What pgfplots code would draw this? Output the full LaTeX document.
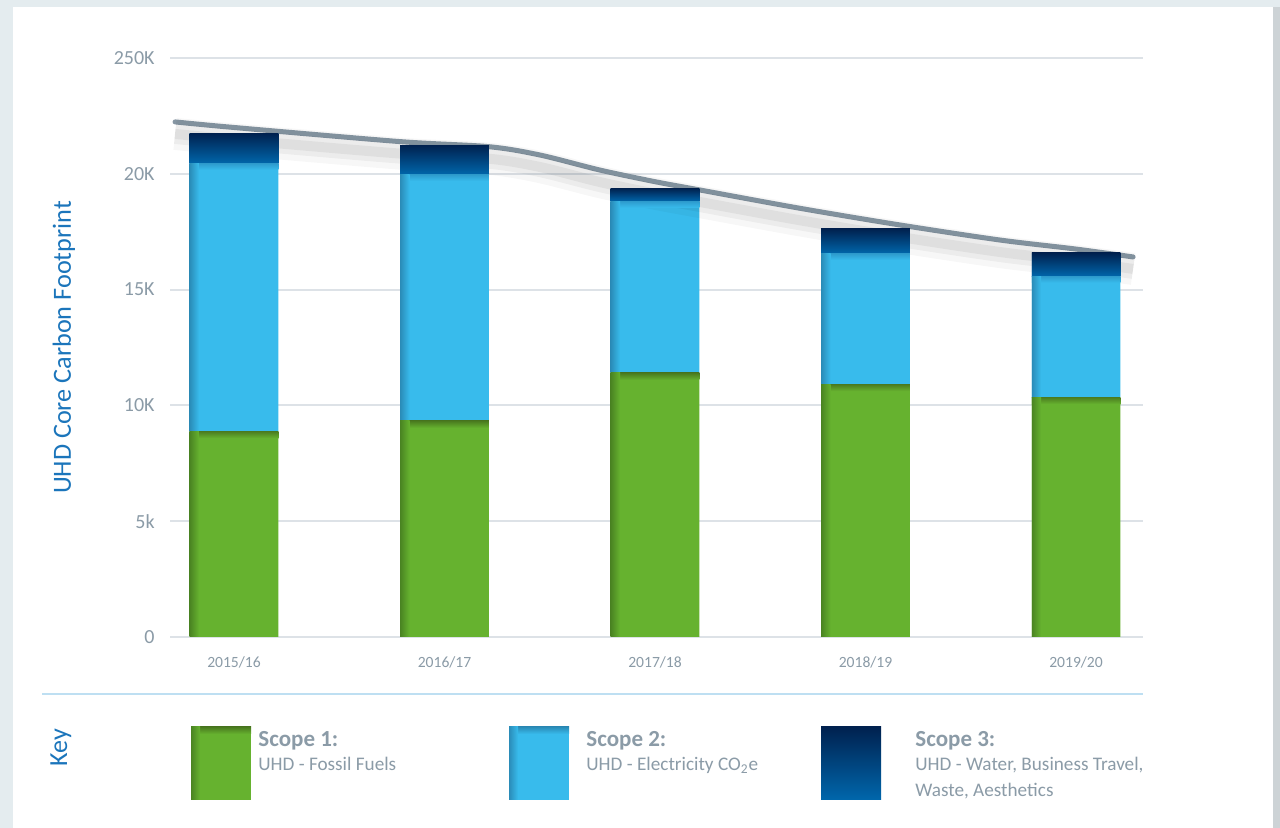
\documentclass[border=0pt]{standalone}
\usepackage{fontspec}
\setmainfont{Carlito}
\usepackage{pgfplots}
\pgfplotsset{compat=1.18}
\usepackage{pgfplotstable}

\definecolor{framec}{HTML}{E4ECEF}
\definecolor{rightc}{HTML}{CDD3D6}
\definecolor{gridc}{HTML}{DDE2E7}
\definecolor{basec}{HTML}{C8CFD5}
\definecolor{tickc}{HTML}{8B9BA7}
\definecolor{labc}{HTML}{1B75BB}
\definecolor{gmain}{HTML}{66B22F}
\definecolor{gdark}{HTML}{4A8422}
\definecolor{gtopd}{HTML}{4A7A1F}
\definecolor{bmain}{HTML}{38BBEC}
\definecolor{bdark}{HTML}{2A8CB8}
\definecolor{btopd}{HTML}{2E9DCF}
\definecolor{ntop}{HTML}{00214F}
\definecolor{nbot}{HTML}{0067AC}
\definecolor{linec}{HTML}{8696A3}
\definecolor{sepc}{HTML}{BEDFF2}

\pgfdeclareplotmark{nothing}{}

\pgfplotstableread{
x s1 s2 s3 t1 t2 t3
0 8.89 11.54 1.33 8.89 20.43 21.76
1 9.33 10.62 1.29 9.33 19.95 21.24
2 11.40 7.40 0.57 11.40 18.80 19.37
3 10.92 5.62 1.08 10.92 16.54 17.62
4 10.36 5.20 1.02 10.36 15.56 16.58
}\bardata

\pgfplotstableread{
x y
-0.28 22.24
0 22.0
0.789 21.39
1.211 21.17
1.454 20.81
1.739 20.16
2.0 19.66
2.214 19.30
2.689 18.51
3.164 17.79
3.639 17.14
4.0 16.75
4.271 16.41
}\trendline

\begin{document}
\begin{tikzpicture}[x=0.5pt,y=0.5pt]
\fill[framec] (0,0) rectangle (1280,828);
\fill[white] (13,0) rectangle (1273,821);
\fill[rightc] (1273,0) rectangle (1280,821);
\path[use as bounding box] (0,0) rectangle (1280,828);

\begin{axis}[
  at={(85pt,95.5pt)}, anchor=south west, scale only axis,
  width=486.5pt, height=289.5pt,
  xmin=-0.304, xmax=4.318, ymin=0, ymax=25,
  ybar stacked, bar width=44.3pt,
  axis line style={draw=none}, tick style={draw=none},
  ymajorgrids, major grid style={gridc, line width=1pt},
  extra y ticks={0}, extra y tick labels={},
  extra y tick style={grid style={basec, line width=1.5pt}},
  xtick={0,1,2,3,4},
  xticklabels={2015/16,2016/17,2017/18,2018/19,2019/20},
  ytick={0,5,10,15,20,25},
  yticklabels={0,5k,10K,15K,20K,250K},
  yticklabel style={font=\fontsize{10}{12}\selectfont, text=tickc, inner sep=0pt, xshift=-7.5pt},
  xticklabel style={font=\fontsize{7.8}{9}\selectfont, text=tickc, inner sep=0pt, yshift=-9.5pt},
  ylabel={UHD Core Carbon Footprint},
  ylabel style={at={(axis description cs:-0.109,0.5)}, anchor=center, font=\fontsize{13.1}{15}\selectfont, text=labc},
  clip=false,
]
% shadow of trend line
\addplot[smooth, stack plots=false, forget plot, draw=black, opacity=0.03, line width=16pt, yshift=-6pt] table[x=x,y=y] {\trendline};
\addplot[smooth, stack plots=false, forget plot, draw=black, opacity=0.045, line width=10pt, yshift=-6pt] table[x=x,y=y] {\trendline};
\addplot[smooth, stack plots=false, forget plot, draw=black, opacity=0.05, line width=5pt, yshift=-6pt] table[x=x,y=y] {\trendline};
% bars
\addplot[draw=none, fill=gmain] table[x=x,y=s1] {\bardata};
\addplot[draw=none, fill=bmain] table[x=x,y=s2] {\bardata};
\addplot[draw=none, fill=nbot] table[x=x,y=s3] {\bardata};
% bar shading (per bar, placed at each segment's top)
\addplot[scatter, only marks, mark=nothing, stack plots=false, forget plot, draw=none,
  visualization depends on={\thisrow{s1} \as \hh},
  scatter/@pre marker code/.code={%
    \shade[draw=none, top color=gtopd, bottom color=gmain] (-22.15pt,0pt) rectangle (22.15pt,-3.5pt);
    \shade[draw=none, left color=gdark, right color=gmain] (-22.15pt,0pt) rectangle (-17.5pt,-\hh*11.58pt);
  },
  scatter/@post marker code/.code={}] table[x=x,y=t1] {\bardata};
\addplot[scatter, only marks, mark=nothing, stack plots=false, forget plot, draw=none,
  visualization depends on={\thisrow{s2} \as \hh},
  scatter/@pre marker code/.code={%
    \shade[draw=none, top color=btopd, bottom color=bmain] (-22.15pt,0pt) rectangle (22.15pt,-3pt);
    \shade[draw=none, left color=bdark, right color=bmain] (-22.15pt,0pt) rectangle (-17.5pt,-\hh*11.58pt);
  },
  scatter/@post marker code/.code={}] table[x=x,y=t2] {\bardata};
\addplot[scatter, only marks, mark=nothing, stack plots=false, forget plot, draw=none,
  visualization depends on={\thisrow{s3} \as \hh},
  scatter/@pre marker code/.code={%
    \shade[draw=none, top color=ntop, bottom color=nbot] (-22.15pt,0pt) rectangle (22.15pt,-\hh*11.58pt);
  },
  scatter/@post marker code/.code={}] table[x=x,y=t3] {\bardata};
% trend line
\addplot[smooth, stack plots=false, forget plot, draw=linec, line width=2.5pt, line cap=round] table[x=x,y=y] {\trendline};
\end{axis}

% key
\draw[sepc, line width=1pt] (42,134) -- (1143,134);
\node[rotate=90, font=\fontsize{13}{15}\selectfont, text=labc] at (61,80) {Key};

\fill[gmain] (191,28) rectangle (251,101);
\shade[top color=gtopd, bottom color=gmain] (191,94) rectangle (251,101);
\shade[left color=gdark, right color=gmain] (191,28) rectangle (200,101);
\fill[bmain] (509,28) rectangle (569,101);
\shade[top color=bdark, bottom color=bmain] (509,94) rectangle (569,101);
\shade[left color=bdark, right color=bmain] (509,28) rectangle (518,101);
\shade[top color=ntop, bottom color=nbot] (821,28) rectangle (881,101);

\begin{scope}[every node/.style={anchor=base west, inner sep=0pt, text=tickc}]
\node[font=\bfseries\fontsize{11.5}{13}\selectfont] at (258,81) {Scope 1:};
\node[font=\fontsize{9.6}{11}\selectfont] at (258,57) {UHD - Fossil Fuels};
\node[font=\bfseries\fontsize{11.5}{13}\selectfont] at (586,81) {Scope 2:};
\node[font=\fontsize{9.6}{11}\selectfont] at (586,57) {UHD - Electricity CO\textsubscript{2}e};
\node[font=\bfseries\fontsize{11.5}{13}\selectfont] at (915,81) {Scope 3:};
\node[font=\fontsize{9.6}{11}\selectfont] at (915,57) {UHD - Water, Business Travel,};
\node[font=\fontsize{9.6}{11}\selectfont] at (915,31) {Waste, Aesthetics};
\end{scope}
\end{tikzpicture}
\end{document}
